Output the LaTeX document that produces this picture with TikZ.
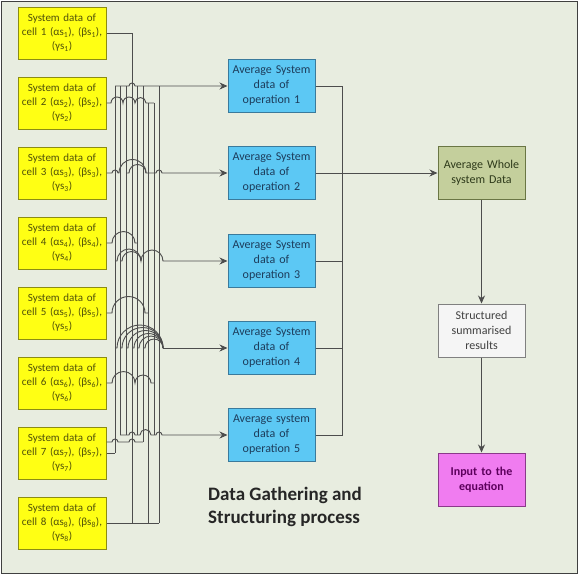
\documentclass[tikz,border=0pt]{standalone}
\usepackage{fontspec}
\setmainfont{Carlito}
\usetikzlibrary{arrows.meta}
\definecolor{bg}{HTML}{E8EDE0}
\definecolor{cellfill}{HTML}{FFFF14}
\definecolor{celldraw}{HTML}{8C8C14}
\definecolor{celltext}{HTML}{50500A}
\definecolor{opfill}{HTML}{5CC8F4}
\definecolor{opdraw}{HTML}{3A7A9C}
\definecolor{optext}{HTML}{1D3D5C}
\definecolor{wholefill}{HTML}{C4CF9C}
\definecolor{wholedraw}{HTML}{6A7644}
\definecolor{wholetext}{HTML}{2E3A1A}
\definecolor{structfill}{HTML}{F5F5F5}
\definecolor{structdraw}{HTML}{808080}
\definecolor{structtext}{HTML}{404040}
\definecolor{pinkfill}{HTML}{F07CF0}
\definecolor{pinkdraw}{HTML}{8A3A8A}
\definecolor{pinktext}{HTML}{5C005C}
\definecolor{wirecol}{HTML}{4D4D4D}
\newcommand\hp[2]{-- (#1,\Y) arc[start angle=180,end angle=0,radius={((#2)-(#1))/2*1pt}]}
\begin{document}
\begin{tikzpicture}[x=1pt,y=1pt,
  cellbox/.style={draw=celldraw, fill=cellfill, line width=1pt, minimum width=88pt, minimum height=52pt,
    text width=86pt, align=center, inner sep=0pt, text=celltext, font=\fontsize{11}{14}\selectfont},
  opbox/.style={draw=opdraw, fill=opfill, line width=1pt, minimum width=87pt, minimum height=53pt,
    text width=85pt, align=center, inner sep=0pt, text=optext, font=\fontsize{12}{15}\selectfont},
  wholebox/.style={opbox, draw=wholedraw, fill=wholefill, text=wholetext},
  structbox/.style={opbox, draw=structdraw, fill=structfill, text=structtext},
  pinkbox/.style={opbox, draw=pinkdraw, fill=pinkfill, text=pinktext, font=\fontsize{12}{15}\selectfont\bfseries},
  wire/.style={draw=wirecol, line width=0.9pt},
  arr/.style={wire, -{Stealth[length=8pt,width=7pt]}}]
\useasboundingbox (0,0) rectangle (580,-576);
\fill[white] (0,0) rectangle (580,-576);
\draw[fill=bg, draw=black!75, line width=1pt] (1,-1) rectangle (577,-573);

% cells
\foreach \i in {1,...,8}
  \node[cellbox] (c\i) at (62,{-33-70*(\i-1)}) {System data of\\cell \i\ (αs\textsubscript{\i}), (βs\textsubscript{\i}),\\(γs\textsubscript{\i})};

% operations
\node[opbox] (op1) at (271.5,-86) {Average System\\data of\\operation 1};
\node[opbox] (op2) at (271.5,-173) {Average System\\data of\\operation 2};
\node[opbox] (op3) at (271.5,-261) {Average System\\data of\\operation 3};
\node[opbox] (op4) at (271.5,-348) {Average System\\data of\\operation 4};
\node[opbox] (op5) at (271.5,-435) {Average system\\data of\\operation 5};

\node[wholebox] (whole) at (481.5,-173) {Average Whole\\system Data};
\node[structbox] (struct) at (481.5,-330.5) {Structured\\summarised\\results};
\node[pinkbox] (pink) at (481.5,-479.5) {Input to the\\equation};

\node[anchor=base west, inner sep=0pt, align=left, font=\fontsize{19}{23}\selectfont\bfseries, text=black!85] (title) at (208,-523) {Data Gathering and\\Structuring process};

% vertical buses
\draw[wire] (115,-86) -- (115,-453);
\draw[wire] (120,-86) -- (120,-435);
\draw[wire] (126,-86) -- (126,-435);
\draw[wire] (132,-33) -- (132,-523);
\draw[wire] (137,-86) -- (137,-435);
\draw[wire] (143,-86) -- (143,-442);
\draw[wire] (148,-103) -- (148,-523);
\draw[wire] (154,-103) -- (154,-435);
\draw[wire] (159,-86) -- (159,-523);

% cell rows
\draw[wire] (c1.east) -- (132,-33);
\def\Y{-103}
\draw[wire] (c2.east) \hp{111}{123} \hp{123}{135} \hp{135}{146} -- (154,\Y);
\def\Y{-173}
\draw[arr] (c3.east) \hp{112}{118} \hp{119}{146} \hp{156}{162} -- (op2.west);
\draw[wire] (126,\Y) \hp{129}{146};
\def\Y{-243}
\draw[wire] (c4.east) \hp{112}{135} -- (137,\Y);
\def\Y{-313}
\draw[wire] (c5.east) \hp{112}{145} -- (148,\Y);
\def\Y{-383}
\draw[wire] (c6.east) \hp{112}{135} \hp{135}{151} -- (154,\Y);
\def\Y{-442}
\draw[wire] ([yshift=11pt]c7.east) \hp{112}{118} \hp{129}{135} -- (143,\Y);
\draw[wire] (c7.east) -- (115,-453);
\draw[wire] (c8.east) -- (159,-523);

% operation rows
\def\Y{-86}
\draw[arr] (115,\Y) \hp{129}{135} -- (op1.west);
\def\Y{-261}
\draw[arr] (115,\Y) \hp{117}{141} \hp{141}{163} -- (op3.west);
\draw[wire] (120,\Y) \hp{122}{141};
\def\Y{-348}
\foreach \s in {115,120,126,132,137,143}
  \draw[wire] (\s,\Y) \hp{\s+2}{163};
\draw[arr] (163,\Y) -- (op4.west);
\def\Y{-435}
\draw[arr] (120,\Y) \hp{129}{135} \hp{140}{151} \hp{156}{162} -- (op5.west);

% right side
\coordinate (busT) at (342,-86);
\coordinate (busB) at (342,-435);
\draw[wire] (op1.east) -- (busT) -- (busB) -- (op5.east);
\draw[wire] (op3.east) -- (op3.east -| busT);
\draw[wire] (op4.east) -- (op4.east -| busT);
\draw[arr] (op2.east) -- (whole.west);
\draw[arr] (whole.south) -- (struct.north);
\draw[arr] (struct.south) -- (pink.north);
\end{tikzpicture}
\end{document}
